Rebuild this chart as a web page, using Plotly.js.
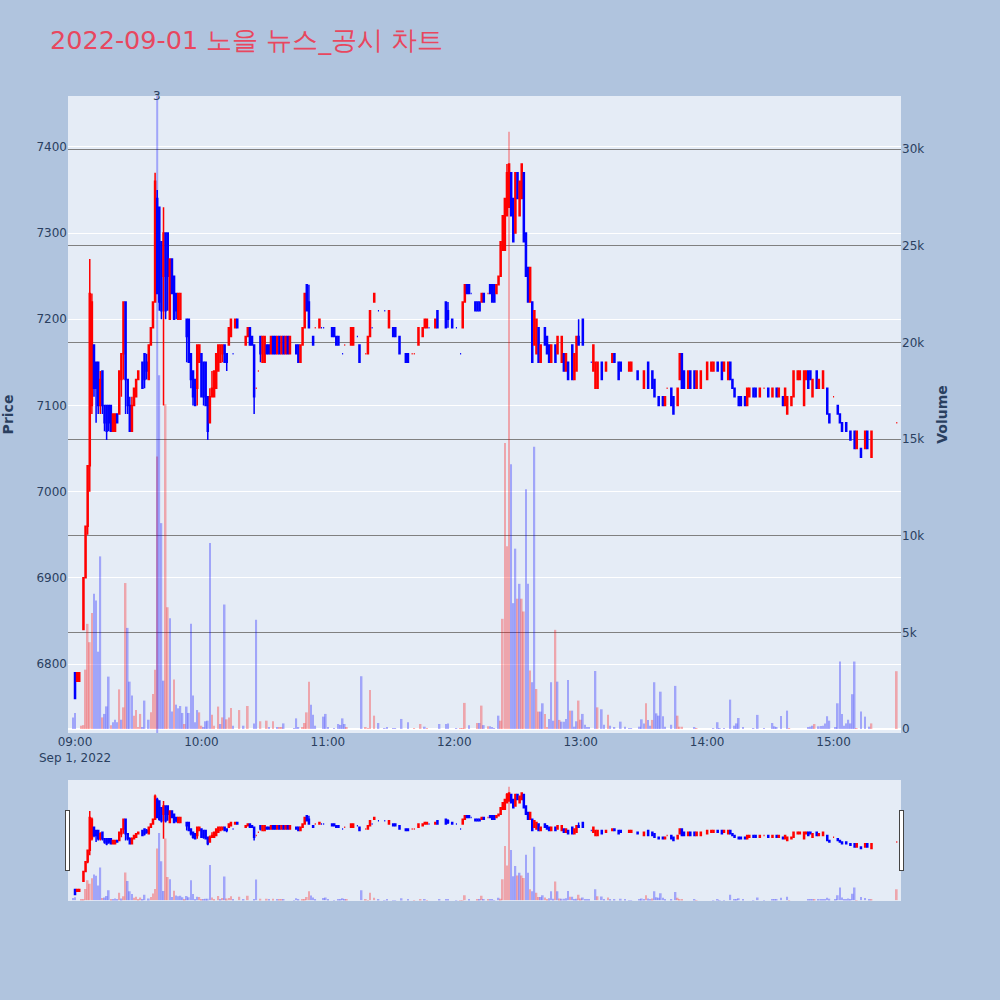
<!DOCTYPE html>
<html><head><meta charset="utf-8">
<script src="https://cdn.plot.ly/plotly-3.0.1.min.js"></script>
<style>html,body{margin:0;padding:0;background:#B0C4DE}</style>
</head><body><div id="chart" style="width:1000px;height:1000px"></div>
<script>
const DAY = '2022-09-01';
const candleTime = [
'09:00','09:01','09:02','09:04','09:05','09:06','09:07','09:08','09:09',
'09:10','09:11','09:12','09:13','09:14','09:15','09:16','09:17','09:18','09:19',
'09:20','09:21','09:22','09:23','09:24','09:25','09:26','09:27','09:28','09:29',
'09:30','09:32','09:33','09:34','09:35','09:36','09:37','09:38','09:39','09:40',
'09:41','09:42','09:43','09:44','09:45','09:46','09:47','09:48','09:49','09:50',
'09:53','09:54','09:55','09:56','09:57','09:58','09:59','10:00','10:01','10:02',
'10:03','10:04','10:05','10:06','10:07','10:08','10:09','10:10','10:11','10:12',
'10:13','10:14','10:15','10:16','10:17','10:21','10:22','10:23','10:24','10:25',
'10:26','10:27','10:28','10:29','10:30','10:31','10:32','10:33','10:34','10:35',
'10:36','10:37','10:38','10:39','10:40','10:41','10:42','10:45','10:46','10:47',
'10:48','10:49','10:50','10:51','10:53','10:54','10:56','10:57','10:58','11:02',
'11:03','11:04','11:05','11:07','11:08','11:11','11:12','11:14','11:15','11:18',
'11:19','11:20','11:21','11:22','11:24','11:27','11:29','11:31','11:32','11:34',
'11:37','11:38','11:40','11:41','11:43','11:45','11:46','11:47','11:48','11:51',
'11:52','11:56','11:57','11:59','12:01','12:03','12:04','12:05','12:06','12:07',
'12:08','12:10','12:11','12:12','12:13','12:14','12:16','12:17','12:18','12:19',
'12:20','12:21','12:22','12:23','12:24','12:25','12:26','12:27','12:28','12:29',
'12:30','12:31','12:32','12:33','12:34','12:35','12:36','12:37','12:38','12:39',
'12:40','12:41','12:43','12:44','12:45','12:46','12:48','12:49','12:51','12:52',
'12:53','12:54','12:56','12:57','12:58','12:59','13:01','13:05','13:06','13:07',
'13:08','13:10','13:12','13:15','13:16','13:18','13:19','13:23','13:24','13:27',
'13:30','13:32','13:34','13:35','13:37','13:39','13:40','13:41','13:43','13:44',
'13:46','13:47','13:48','13:49','13:51','13:52','13:54','13:55','13:57','14:00',
'14:02','14:03','14:05','14:07','14:08','14:10','14:11','14:12','14:13','14:15',
'14:16','14:18','14:19','14:20','14:22','14:23','14:25','14:27','14:29','14:31',
'14:33','14:34','14:36','14:37','14:38','14:40','14:41','14:43','14:44','14:46',
'14:47','14:48','14:49','14:50','14:52','14:53','14:55','14:57','14:58','15:00',
'15:02','15:03','15:04','15:06','15:08','15:10','15:11','15:13','15:15','15:16',
'15:18','15:30'];
const openP = [
6790,6780,6780,6840,6900,6960,7030,7100,7170,
7150,7150,7100,7140,7100,7100,7100,7100,7070,7070,
7090,7090,7130,7160,7220,7130,7100,7070,7100,7110,
7130,7150,7160,7150,7130,7170,7190,7220,7340,7330,
7290,7250,7300,7300,7200,7270,7250,7230,7200,7200,
7200,7200,7160,7140,7130,7120,7150,7160,7150,7150,
7110,7080,7110,7110,7120,7140,7150,7160,7170,7160,
7170,7180,7160,7190,7200,7170,7180,7190,7180,7170,
7120,7140,7180,7150,7150,7170,7170,7160,7180,7180,
7160,7180,7160,7180,7160,7180,7160,7170,7170,7150,
7170,7190,7240,7220,7180,7190,7190,7190,7190,7190,
7190,7180,7180,7160,7170,7170,7170,7180,7170,7160,
7160,7180,7190,7220,7210,7210,7190,7190,7190,7180,
7160,7160,7160,7160,7170,7180,7190,7190,7190,7190,
7210,7220,7210,7200,7190,7160,7190,7220,7240,7240,
7230,7220,7220,7220,7220,7230,7230,7240,7240,7240,
7230,7240,7250,7280,7280,7320,7330,7370,7340,7300,
7370,7320,7340,7370,7300,7260,7220,7220,7170,7160,
7190,7150,7190,7180,7170,7150,7170,7160,7150,7160,
7140,7150,7170,7130,7140,7180,7200,7150,7140,7120,
7120,7150,7140,7150,7160,7150,7150,7140,7140,7140,
7120,7150,7140,7130,7110,7110,7100,7120,7120,7110,
7100,7130,7160,7140,7120,7140,7140,7120,7120,7130,
7140,7140,7150,7150,7140,7130,7150,7130,7120,7110,
7110,7110,7100,7110,7120,7120,7110,7120,7120,7110,
7120,7110,7110,7100,7090,7100,7110,7130,7130,7100,
7130,7140,7140,7110,7140,7120,7120,7120,7090,7110,
7100,7090,7080,7080,7070,7070,7050,7050,7050,7070,
7040,7080];
const highP = [
6790,6790,6790,6900,6960,7030,7270,7230,7170,
7150,7150,7140,7140,7100,7100,7100,7100,7090,7090,
7090,7140,7160,7220,7220,7130,7110,7110,7120,7130,
7140,7150,7160,7160,7170,7190,7220,7370,7350,7330,
7290,7330,7300,7300,7270,7270,7250,7230,7230,7230,
7200,7200,7160,7140,7130,7170,7170,7160,7150,7150,
7110,7120,7140,7140,7160,7170,7170,7170,7170,7160,
7190,7200,7160,7200,7200,7180,7190,7190,7180,7170,
7120,7140,7180,7180,7180,7170,7170,7180,7180,7180,
7180,7180,7180,7180,7180,7180,7180,7170,7170,7170,
7190,7230,7240,7240,7180,7190,7200,7190,7190,7190,
7190,7180,7180,7160,7170,7190,7190,7180,7170,7160,
7180,7210,7190,7230,7210,7210,7210,7190,7190,7180,
7160,7160,7160,7160,7190,7190,7200,7200,7190,7200,
7210,7220,7220,7200,7190,7160,7220,7240,7240,7240,
7230,7220,7220,7220,7230,7230,7230,7240,7240,7240,
7240,7250,7290,7320,7340,7380,7380,7370,7340,7370,
7370,7360,7380,7370,7300,7260,7260,7220,7210,7200,
7190,7170,7190,7180,7170,7170,7170,7180,7180,7160,
7160,7150,7170,7160,7180,7200,7200,7150,7170,7150,
7150,7150,7150,7160,7160,7150,7150,7150,7150,7140,
7140,7150,7140,7130,7110,7110,7110,7120,7120,7110,
7120,7160,7160,7140,7140,7140,7140,7140,7140,7150,
7150,7150,7150,7150,7150,7150,7150,7130,7120,7110,
7110,7110,7120,7120,7120,7120,7120,7120,7120,7120,
7120,7120,7110,7120,7110,7110,7140,7140,7140,7140,
7140,7140,7140,7130,7140,7130,7140,7120,7090,7110,
7100,7090,7080,7080,7070,7070,7070,7050,7070,7070,
7070,7080];
const lowP = [
6760,6780,6780,6840,6900,6950,7000,7090,7110,
7080,7090,7090,7090,7070,7060,7070,7070,7070,7070,
7080,7090,7110,7130,7090,7090,7070,7070,7100,7110,
7130,7120,7120,7130,7130,7170,7190,7220,7230,7210,
7200,7100,7200,7210,7200,7230,7200,7200,7200,7200,
7150,7150,7120,7100,7100,7100,7150,7110,7100,7100,
7060,7080,7110,7110,7120,7140,7150,7150,7150,7140,
7170,7180,7160,7190,7190,7170,7180,7170,7170,7090,
7120,7140,7150,7150,7150,7160,7160,7160,7160,7160,
7160,7160,7160,7160,7160,7160,7160,7160,7150,7150,
7170,7190,7210,7190,7170,7190,7190,7190,7190,7180,
7180,7170,7170,7160,7170,7170,7170,7180,7150,7160,
7160,7180,7190,7220,7210,7210,7190,7180,7180,7160,
7150,7150,7160,7160,7170,7180,7190,7190,7190,7190,
7190,7190,7190,7190,7190,7160,7190,7220,7230,7230,
7230,7210,7210,7210,7220,7220,7230,7230,7220,7220,
7230,7240,7250,7280,7280,7320,7330,7320,7290,7300,
7340,7320,7340,7290,7250,7220,7220,7150,7170,7160,
7150,7150,7170,7160,7150,7150,7150,7160,7150,7140,
7140,7130,7130,7130,7140,7170,7170,7150,7140,7120,
7120,7130,7140,7150,7150,7130,7140,7140,7140,7130,
7120,7120,7120,7110,7100,7100,7100,7120,7100,7090,
7100,7130,7120,7120,7120,7120,7120,7120,7120,7130,
7140,7140,7140,7130,7140,7130,7130,7120,7110,7100,
7100,7100,7100,7110,7110,7110,7110,7120,7110,7110,
7110,7110,7100,7100,7090,7100,7110,7130,7130,7100,
7130,7120,7130,7110,7120,7120,7120,7090,7080,7110,
7090,7080,7070,7070,7060,7050,7050,7040,7050,7050,
7040,7080];
const closeP = [
6760,6790,6790,6900,6960,7030,7230,7220,7120,
7120,7100,7130,7100,7080,7070,7080,7070,7090,7090,
7080,7140,7160,7220,7130,7100,7070,7100,7120,7130,
7140,7120,7130,7140,7170,7190,7220,7360,7230,7220,
7210,7300,7210,7250,7270,7230,7200,7210,7230,7230,
7180,7150,7130,7110,7100,7170,7170,7110,7110,7100,
7070,7110,7120,7140,7160,7170,7170,7170,7150,7150,
7190,7200,7160,7200,7190,7180,7190,7170,7170,7110,
7120,7140,7160,7180,7180,7160,7160,7180,7160,7160,
7180,7160,7180,7160,7180,7160,7180,7160,7150,7170,
7190,7230,7210,7190,7170,7190,7200,7190,7190,7180,
7180,7170,7170,7160,7170,7190,7190,7180,7150,7160,
7180,7210,7190,7230,7210,7210,7210,7180,7180,7160,
7150,7150,7160,7160,7190,7190,7200,7200,7190,7200,
7190,7190,7200,7190,7190,7160,7220,7240,7230,7230,
7230,7210,7210,7210,7230,7220,7230,7230,7220,7220,
7240,7250,7290,7320,7340,7370,7380,7320,7290,7370,
7340,7360,7380,7290,7250,7220,7260,7150,7210,7200,
7150,7170,7170,7160,7150,7170,7150,7180,7180,7140,
7160,7130,7130,7160,7180,7170,7170,7150,7170,7150,
7150,7130,7150,7160,7150,7130,7140,7150,7150,7130,
7140,7120,7120,7110,7100,7100,7110,7120,7100,7090,
7120,7160,7120,7120,7140,7120,7120,7140,7140,7150,
7150,7150,7140,7130,7150,7150,7130,7120,7110,7100,
7100,7100,7120,7120,7110,7110,7120,7120,7110,7120,
7110,7120,7100,7120,7110,7110,7140,7140,7140,7140,
7140,7120,7130,7130,7120,7130,7140,7090,7080,7110,
7090,7080,7070,7070,7060,7050,7070,7040,7070,7050,
7070,7080];

const volTime = [
'08:59','09:00','09:03','09:04','09:05','09:06','09:07','09:08','09:09','09:10',
'09:11','09:12','09:13','09:14','09:15','09:16','09:17','09:18','09:19','09:20',
'09:21','09:22','09:23','09:24','09:25','09:26','09:27','09:28','09:29','09:30',
'09:31','09:32','09:33','09:35','09:36','09:37','09:38','09:39','09:40','09:41',
'09:42','09:43','09:44','09:45','09:46','09:47','09:48','09:49','09:50','09:51',
'09:52','09:53','09:54','09:55','09:56','09:57','09:58','09:59','10:00','10:01',
'10:02','10:03','10:04','10:05','10:06','10:08','10:09','10:10','10:11','10:12',
'10:13','10:14','10:15','10:18','10:20','10:22','10:25','10:26','10:28','10:31',
'10:32','10:34','10:36','10:37','10:38','10:39','10:44','10:45','10:46','10:48',
'10:49','10:50','10:51','10:52','10:53','10:54','10:58','10:59','11:00','11:03',
'11:05','11:06','11:07','11:08','11:09','11:16','11:18','11:19','11:20','11:22',
'11:24','11:27','11:28','11:31','11:32','11:35','11:38','11:41','11:44','11:46',
'11:47','11:53','11:56','11:57','12:01','12:03','12:04','12:05','12:07','12:11',
'12:12','12:13','12:14','12:16','12:17','12:18','12:19','12:21','12:22','12:23',
'12:24','12:25','12:26','12:27','12:28','12:29','12:30','12:31','12:32','12:33',
'12:34','12:35','12:36','12:37','12:38','12:39','12:40','12:41','12:42','12:43',
'12:44','12:45','12:46','12:47','12:48','12:49','12:50','12:51','12:52','12:53',
'12:54','12:55','12:56','12:57','12:58','12:59','13:00','13:01','13:02','13:03',
'13:04','13:07','13:08','13:10','13:11','13:13','13:14','13:16','13:19','13:21',
'13:23','13:24','13:28','13:29','13:30','13:31','13:32','13:33','13:34','13:35',
'13:36','13:37','13:38','13:39','13:40','13:43','13:45','13:46','13:47','13:48',
'13:54','13:55','14:03','14:05','14:06','14:08','14:11','14:13','14:14','14:15',
'14:17','14:22','14:24','14:27','14:31','14:32','14:33','14:35','14:38','14:39',
'14:48','14:49','14:50','14:51','14:53','14:54','14:55','14:56','14:57','14:58',
'15:01','15:02','15:03','15:04','15:05','15:06','15:07','15:08','15:09','15:10',
'15:11','15:13','15:15','15:17','15:18','15:30'];
const volume = [
600,830,170,200,3070,5440,4490,6000,7000,6650,
4000,8930,600,780,1170,2710,200,350,480,350,
2050,480,1120,7550,5230,2450,1730,690,980,90,
780,90,1470,480,860,1810,3070,14100,18300,10650,
2500,16800,6300,5730,900,2560,1260,1070,1190,830,
260,1160,830,5440,1730,350,980,860,170,90,
400,430,9620,740,170,1160,260,600,6440,500,
600,1090,170,980,170,1190,290,5650,400,430,
90,400,90,90,90,290,50,550,90,90,
310,860,2450,1260,740,170,640,780,90,40,
260,210,550,260,90,2730,90,50,2020,690,
310,50,90,50,20,520,350,50,260,120,
30,260,260,290,50,50,50,1350,200,310,
310,1210,200,140,140,90,50,690,430,5700,
14800,9460,30900,13700,6510,9330,6740,7510,6740,6080,
12400,7510,3020,2420,14600,2070,900,900,1330,780,
90,520,2420,430,5130,2450,470,380,380,520,
2540,950,950,120,400,1470,480,780,220,90,
90,3000,1120,1020,220,740,170,90,380,120,
50,50,120,500,290,1330,470,170,470,2420,
810,690,1930,660,120,220,2230,690,120,120,
90,50,50,350,50,30,1520,170,290,570,
90,50,730,30,310,140,90,670,950,30,
90,120,170,260,140,160,170,290,660,430,
90,1330,3490,780,170,290,480,290,1800,3490,
50,900,640,120,290,2990];
const volUp = [
0,0,1,1,1,1,1,1,0,0,
0,0,1,0,0,0,1,0,0,0,
1,0,1,1,0,0,0,1,1,1,
1,0,0,0,1,1,1,1,0,0,
0,1,1,0,0,1,0,0,0,0,
1,0,0,0,0,0,0,1,1,0,
0,0,0,1,1,1,0,1,0,1,
1,1,0,1,0,1,0,0,1,1,
0,1,0,1,1,0,0,0,0,1,
1,1,1,0,0,0,0,0,0,0,
0,0,0,0,1,0,1,1,1,1,
0,0,0,0,0,0,0,1,1,0,
1,0,0,0,0,1,1,1,0,1,
0,1,0,1,0,0,0,0,1,1,
1,1,1,0,0,0,1,0,1,1,
0,0,1,0,0,1,1,0,0,1,
1,0,0,0,1,0,1,0,0,0,
0,1,0,0,0,1,1,0,0,0,
0,0,1,0,0,1,0,0,0,0,
0,0,0,0,0,1,0,0,1,0,
0,0,0,0,0,0,0,1,1,1,
0,1,0,0,0,0,0,0,0,0,
0,0,0,0,0,0,0,0,0,1,
0,0,0,1,0,0,0,0,0,0,
0,0,0,0,0,0,0,0,0,0,
1,0,0,0,1,1];

const newsTime = ['09:39'];
const newsCount = [3];

const toDate = t => DAY + ' ' + t + ':00';
const candle = {
  type: 'candlestick',
  x: candleTime.map(toDate),
  open: openP, high: highP, low: lowP, close: closeP,
  increasing: {line: {color: 'red', width: 1.5}, fillcolor: 'red'},
  decreasing: {line: {color: 'blue', width: 1.5}, fillcolor: 'blue'},
  yaxis: 'y', name: 'Price', showlegend: false
};
const vol = {
  type: 'bar',
  x: volTime.map(toDate),
  y: volume,
  marker: {color: volUp.map(u => u ? 'red' : 'blue'), opacity: 0.3, line: {width: 0}},
  yaxis: 'y2', name: 'Volume', showlegend: false
};
const xRange = [DAY + ' 08:56:40', DAY + ' 15:32:00'];
const layout = {
  width: 1000, height: 1000,
  paper_bgcolor: '#B0C4DE', plot_bgcolor: '#E5ECF6',
  font: {family: '"DejaVu Sans", Verdana, sans-serif', color: '#2a3f5f', size: 12},
  margin: {l: 68, r: 99, t: 96, b: 100},
  showlegend: false,
  title: {text: '2022-09-01 노을 뉴스_공시 차트', x: 0.05, xanchor: 'left', y: 0.96, yanchor: 'middle',
          font: {size: 25.5, color: '#E8475F'}},
  xaxis: {type: 'date', range: xRange, showgrid: false, zeroline: false,
          rangeslider: {visible: true, range: xRange, bgcolor: '#E5ECF6', thickness: 0.15}},
  yaxis: {title: {text: 'Price', font: {size: 14, weight: 'bold'}, standoff: 19}, range: [6720, 7459],
          gridcolor: 'white', zeroline: false},
  yaxis2: {title: {text: 'Volume', font: {size: 14, weight: 'bold'}, standoff: 13}, overlaying: 'y', side: 'right',
           range: [-207, 32746], showgrid: true, gridcolor: 'gray', zeroline: true, zerolinecolor: 'white', zerolinewidth: 2},
  shapes: newsTime.map(t => ({type: 'line', xref: 'x', yref: 'paper', x0: toDate(t), x1: toDate(t), y0: 0, y1: 1,
          line: {color: 'rgba(0,0,255,0.3)', width: 2}})),
  annotations: newsTime.map((t, i) => ({x: toDate(t), y: 1, xref: 'x', yref: 'paper', text: String(newsCount[i]),
          showarrow: false, yanchor: 'middle', font: {size: 12}}))
};
Plotly.newPlot('chart', [vol, candle], layout, {displayModeBar: false});
</script>
</body></html>
